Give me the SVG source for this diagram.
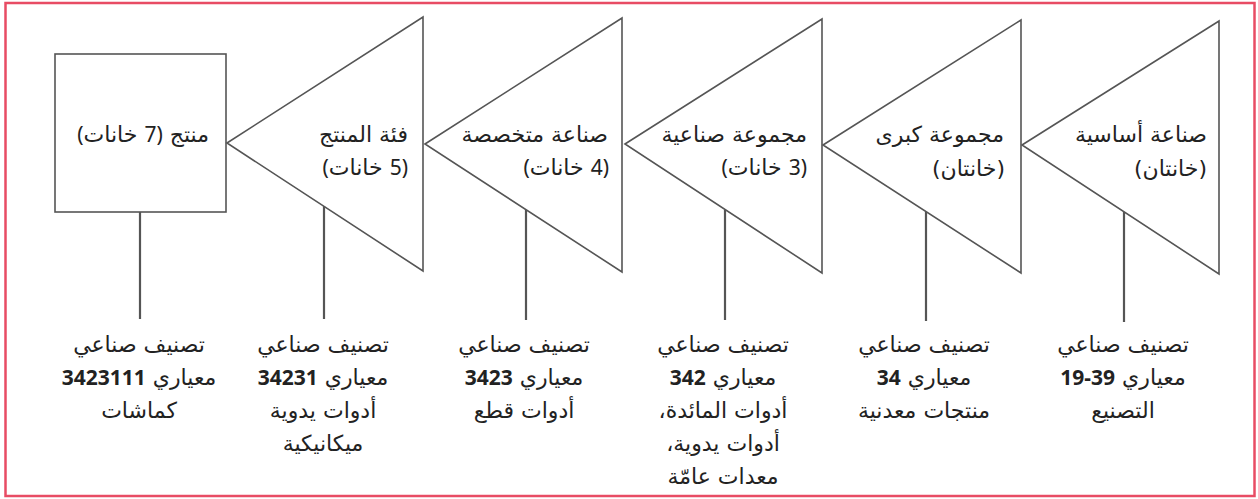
<svg xmlns="http://www.w3.org/2000/svg" width="1258" height="499" viewBox="0 0 1258 499">
<style>
.frame{fill:#fff;stroke:#e84c64;stroke-width:2.5}
.shape{fill:#fff;stroke:#555;stroke-width:1.6}
.stem{stroke:#555;stroke-width:2.2;fill:none}
.lbl{font-family:"DejaVu Sans",sans-serif;font-size:22px;fill:#222;direction:rtl}
.top{text-anchor:start}
.bot{text-anchor:middle}
.num{font-family:"Noto Sans","DejaVu Sans",sans-serif;font-size:21px;font-weight:bold;direction:ltr;unicode-bidi:embed}
.dig{font-family:"Noto Sans","DejaVu Sans",sans-serif;font-size:21px}
</style>
<rect class="frame" x="5.5" y="3" width="1249" height="493"/>
<g id="node-product">
<rect class="shape" x="55" y="54" width="171" height="158"/>
<text class="lbl top" x="209" y="142" direction="rtl">منتج <tspan class="dig">(7</tspan> خانات<tspan class="dig">)</tspan></text>
</g>
<g id="node-product-class">
<polygon class="shape" points="227,143 423,17 423,271"/>
<text class="lbl top" x="408" y="142" direction="rtl">فئة المنتج</text>
<text class="lbl top" x="408" y="175" direction="rtl"><tspan class="dig">(5</tspan> خانات<tspan class="dig">)</tspan></text>
</g>
<g id="node-industry">
<polygon class="shape" points="425,144 622,18 622,272"/>
<text class="lbl top" x="608" y="142" direction="rtl">صناعة متخصصة</text>
<text class="lbl top" x="609" y="175" direction="rtl"><tspan class="dig">(4</tspan> خانات<tspan class="dig">)</tspan></text>
</g>
<g id="node-industry-group">
<polygon class="shape" points="625,144 822,19 822,273"/>
<text class="lbl top" x="807" y="142" direction="rtl">مجموعة صناعية</text>
<text class="lbl top" x="807" y="175" direction="rtl"><tspan class="dig">(3</tspan> خانات<tspan class="dig">)</tspan></text>
</g>
<g id="node-major-group">
<polygon class="shape" points="823,145 1021,20 1021,273"/>
<text class="lbl top" x="1004" y="142" direction="rtl">مجموعة كبرى</text>
<text class="lbl top" x="1005" y="176" direction="rtl">(خانتان)</text>
</g>
<g id="node-basic-industry">
<polygon class="shape" points="1022,145 1219,21 1219,274"/>
<text class="lbl top" x="1207" y="142" direction="rtl">صناعة أساسية</text>
<text class="lbl top" x="1207" y="176" direction="rtl">(خانتان)</text>
</g>
<g id="connectors">
<line class="stem" x1="140" y1="212" x2="140" y2="319"/>
<line class="stem" x1="324" y1="206" x2="324" y2="319"/>
<line class="stem" x1="526" y1="210" x2="526" y2="320"/>
<line class="stem" x1="725" y1="210" x2="725" y2="320"/>
<line class="stem" x1="926" y1="212" x2="926" y2="321"/>
<line class="stem" x1="1124" y1="212" x2="1124" y2="322"/>
</g>
<g id="label-7">
<text class="lbl bot" x="139" y="352" direction="rtl">تصنيف صناعي</text>
<text class="lbl bot" x="139" y="385" direction="rtl">معياري <tspan class="num">3423111</tspan></text>
<text class="lbl bot" x="139" y="418" direction="rtl">كماشات</text>
</g>
<g id="label-5">
<text class="lbl bot" x="323" y="352" direction="rtl">تصنيف صناعي</text>
<text class="lbl bot" x="323" y="385" direction="rtl">معياري <tspan class="num">34231</tspan></text>
<text class="lbl bot" x="323" y="418" direction="rtl">أدوات يدوية</text>
<text class="lbl bot" x="323" y="451" direction="rtl">ميكانيكية</text>
</g>
<g id="label-4">
<text class="lbl bot" x="524" y="352" direction="rtl">تصنيف صناعي</text>
<text class="lbl bot" x="524" y="385" direction="rtl">معياري <tspan class="num">3423</tspan></text>
<text class="lbl bot" x="524" y="418" direction="rtl">أدوات قطع</text>
</g>
<g id="label-3">
<text class="lbl bot" x="723" y="352" direction="rtl">تصنيف صناعي</text>
<text class="lbl bot" x="723" y="385" direction="rtl">معياري <tspan class="num">342</tspan></text>
<text class="lbl bot" x="723" y="418" direction="rtl">أدوات المائدة،</text>
<text class="lbl bot" x="723" y="451" direction="rtl">أدوات يدوية،</text>
<text class="lbl bot" x="723" y="484" direction="rtl">معدات عامّة</text>
</g>
<g id="label-2">
<text class="lbl bot" x="924" y="352" direction="rtl">تصنيف صناعي</text>
<text class="lbl bot" x="924" y="385" direction="rtl">معياري <tspan class="num">34</tspan></text>
<text class="lbl bot" x="924" y="418" direction="rtl">منتجات معدنية</text>
</g>
<g id="label-2b">
<text class="lbl bot" x="1123" y="352" direction="rtl">تصنيف صناعي</text>
<text class="lbl bot" x="1123" y="385" direction="rtl">معياري <tspan class="num">19-39</tspan></text>
<text class="lbl bot" x="1123" y="418" direction="rtl">التصنيع</text>
</g>
</svg>
